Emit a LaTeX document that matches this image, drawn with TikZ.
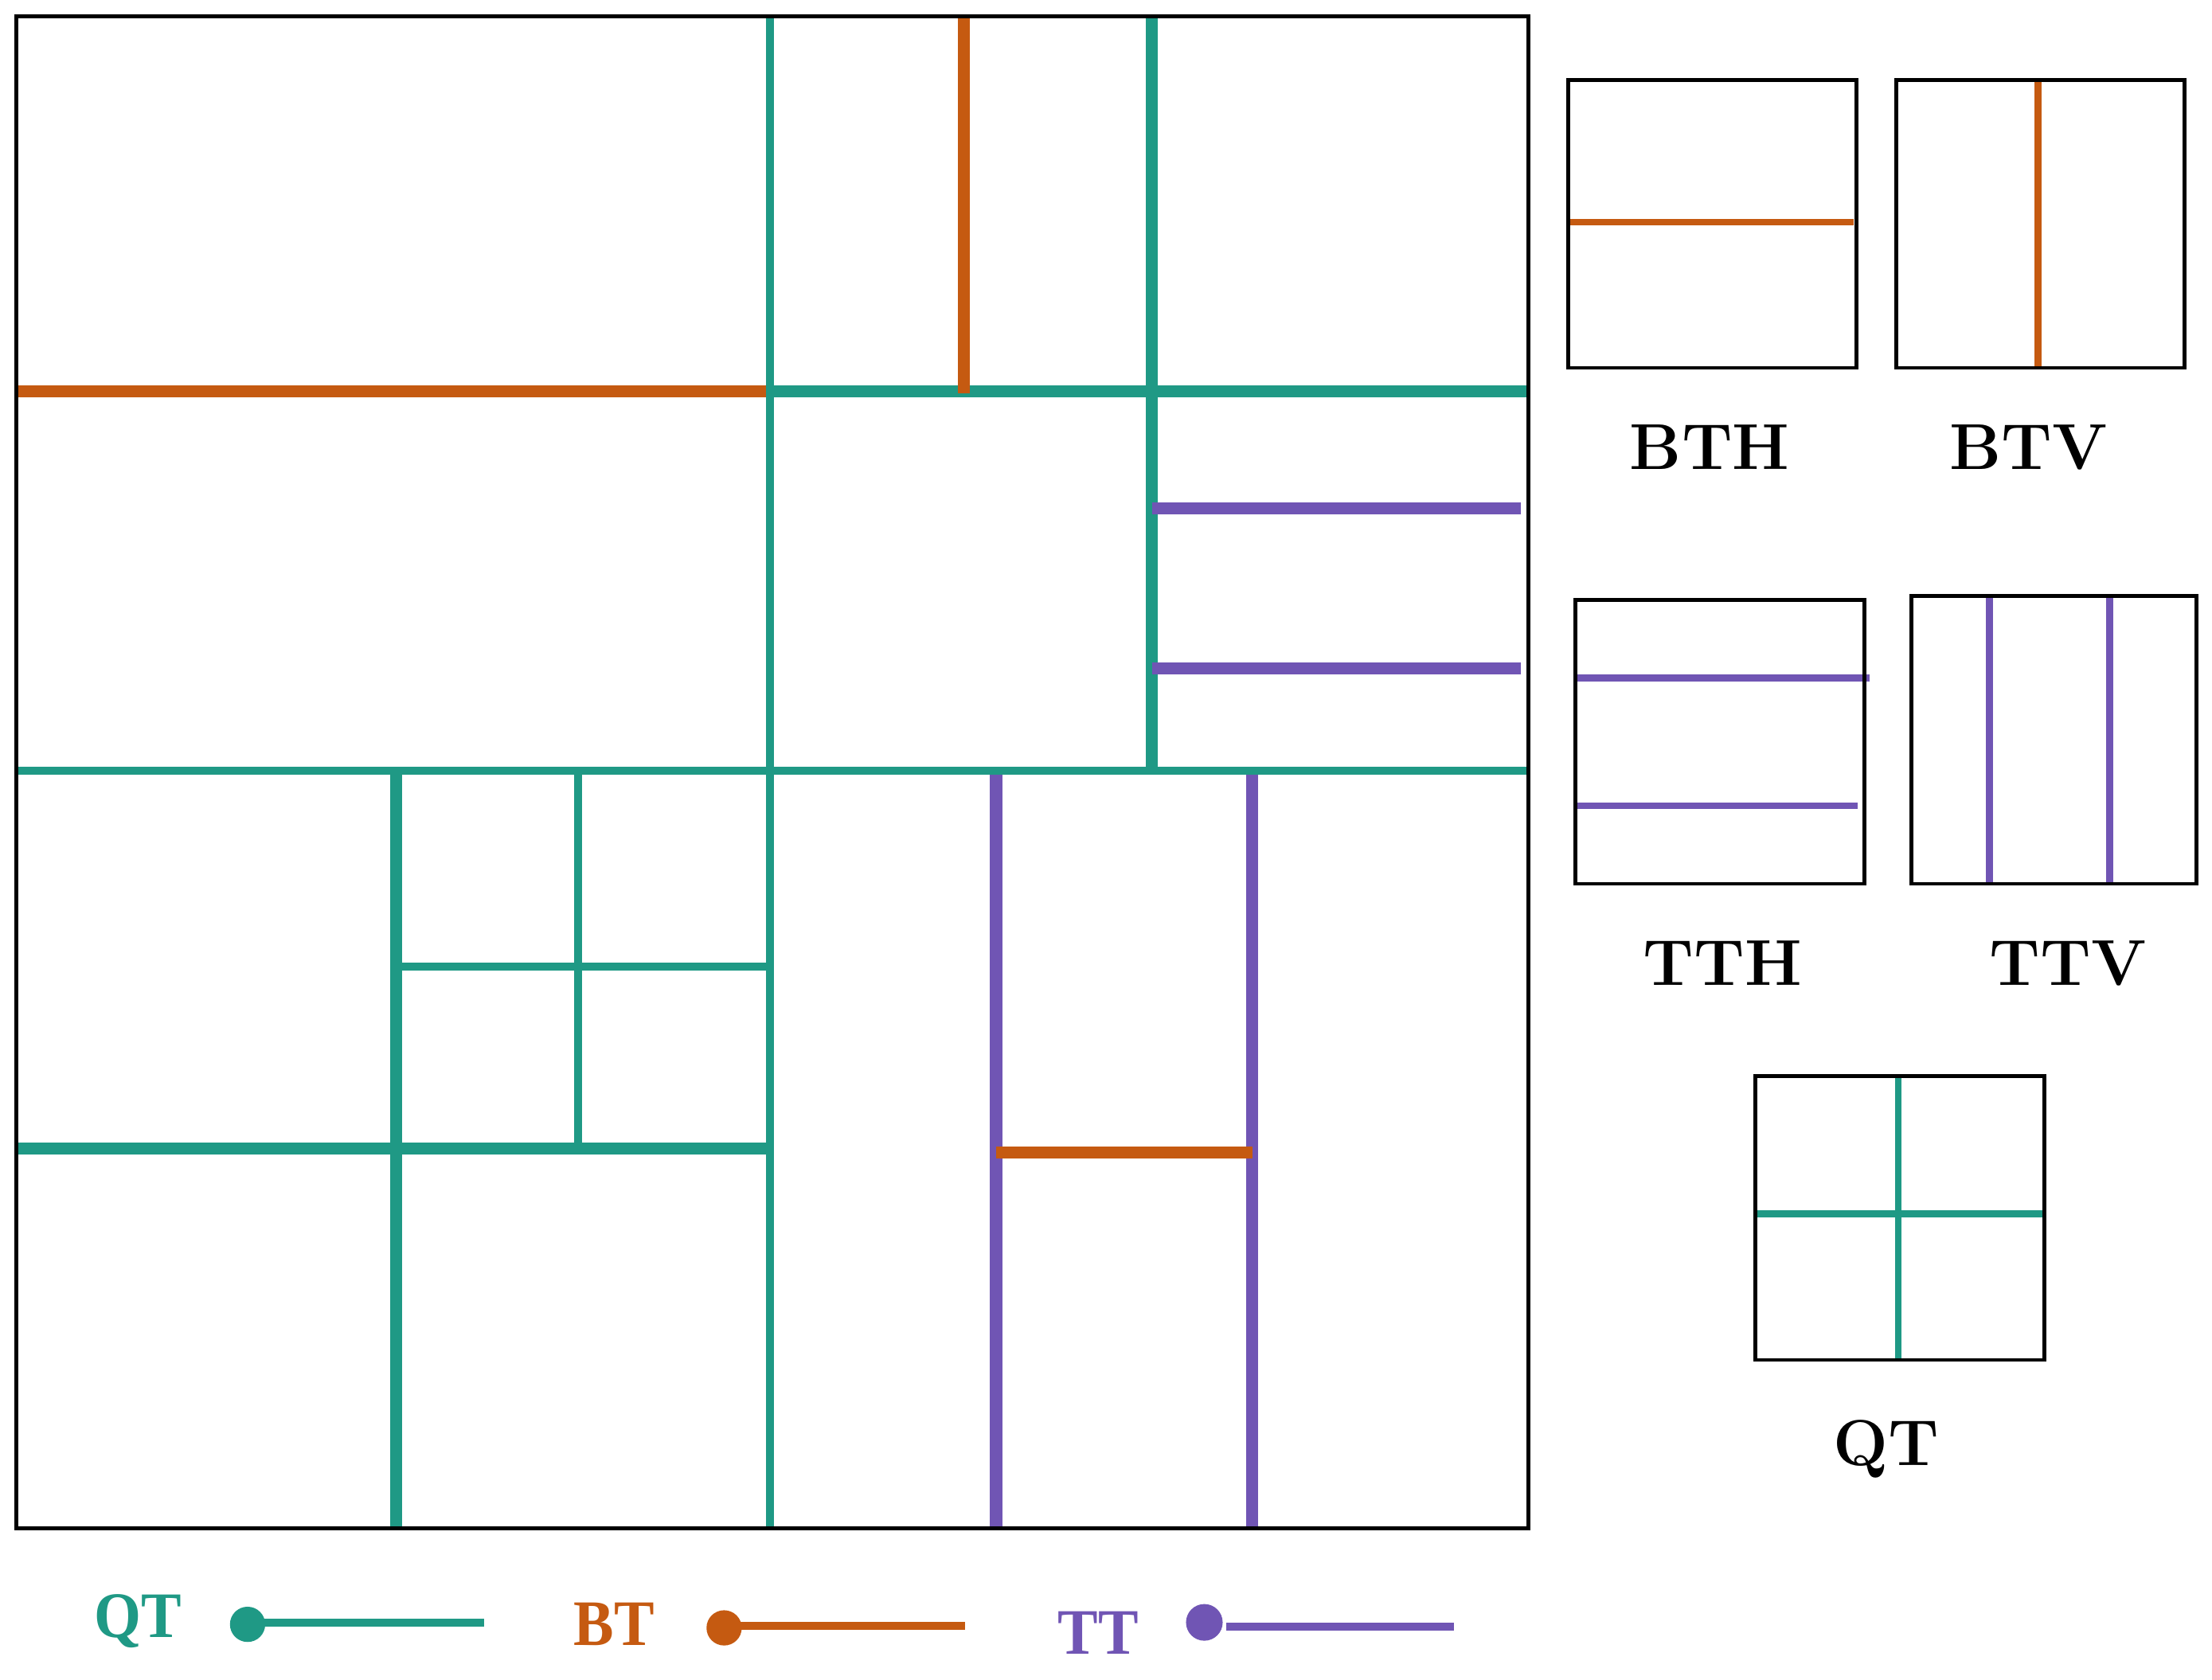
\documentclass[tikz,border=0pt]{standalone}
\usepackage{fontspec}
\newfontfamily\legfont{Liberation Serif}
\definecolor{qtc}{RGB}{31,153,133}
\definecolor{btc}{RGB}{197,90,17}
\definecolor{ttc}{RGB}{112,85,180}
\begin{document}
\begin{tikzpicture}[x=1pt,y=-1pt,
  frame/.style={draw=black,line width=2.7pt},
  qtk/.style={draw=qtc,line width=8.5pt},
  qtm/.style={draw=qtc,line width=5.8pt},
  btk/.style={draw=btc,line width=8.5pt},
  ttk/.style={draw=ttc,line width=8.5pt},
  sqline/.style={line width=5pt},
  lab/.style={font=\fontsize{46}{50}\selectfont\bfseries, anchor=base, inner sep=0pt},
  leg/.style={font=\legfont\fontsize{46}{50}\selectfont\bfseries, anchor=base, inner sep=0pt, xscale=0.93},
  legdot/.style={circle, fill, inner sep=0pt, minimum size=25pt},
  legline/.style={line width=5.6pt}]
\useasboundingbox (0,0) rectangle (1568,1190.4);

% ---------- main partition ----------
% top-left quadrant: BT horizontal
\draw[btk] (11.4,277.5) -- (545.9,277.5);
% top-right quadrant: QT split
\draw[qtk] (545.9,277.5) -- (1083.3,277.5);
\draw[qtk] (816.6,11.7) -- (816.6,546.3);
\draw[btk] (683.4,11.7) -- (683.4,279);
\draw[ttk] (816.6,360.4) -- (1078,360.4);
\draw[ttk] (816.6,473.8) -- (1078,473.8);
% bottom-left quadrant
\draw[qtk] (280.6,546.3) -- (280.6,1083.4);
\draw[qtk] (11.4,814.4) -- (545.9,814.4);
\draw[qtm] (409.8,546.3) -- (409.8,814.4);
\draw[qtm] (280.6,685.2) -- (545.9,685.2);
% bottom-right quadrant
\draw[ttk] (706.1,546.3) -- (706.1,1083.4);
\draw[ttk] (887.6,546.3) -- (887.6,1083.4);
\draw[btk] (706.1,817) -- (887.6,817);
% root QT split
\draw[qtm] (545.9,11.7) -- (545.9,1083.4);
\draw[qtm] (11.4,546.3) -- (1083.3,546.3);
\draw[frame] (11.4,11.7) rectangle (1083.3,1083.4);

% ---------- split type examples ----------
% BTH
\draw[btc,sqline] (1111.6,157.5) -- (1313.8,157.5);
\draw[frame] (1111.6,56.9) rectangle (1315.9,260.8);
\node[lab] (bth) at (1212,333) {BTH};
% BTV
\draw[btc,sqline] (1444.7,56.9) -- (1444.7,260.8);
\draw[frame] (1344,56.9) rectangle (1548.4,260.8);
\node[lab] (btv) at (1438,333) {BTV};
% TTH
\draw[ttc,sqline] (1116,480.6) -- (1325.3,480.6);
\draw[ttc,sqline] (1117.6,571.2) -- (1317,571.2);
\draw[frame] (1116.7,425.3) rectangle (1321.4,626.5);
\node[lab] (tth) at (1221,698.2) {TTH};
% TTV
\draw[ttc,sqline] (1410.3,422.3) -- (1410.3,626.5);
\draw[ttc,sqline] (1495.6,422.3) -- (1495.6,626.5);
\draw[frame] (1354.7,422.3) rectangle (1557,626.5);
\node[lab] (ttv) at (1466,698.2) {TTV};
% QT
\draw[qtc,sqline] (1345.6,763) -- (1345.6,964);
\draw[qtc,sqline] (1243,860.6) -- (1448,860.6);
\draw[frame] (1244.2,763) rectangle (1449.2,964);
\node[lab] (qtl) at (1337,1038.6) {QT};

% ---------- legend ----------
\node[leg, text=qtc] (legqt) at (97.7,1160.9) {QT};
\node[legdot, fill=qtc] (dotqt) at (175.5,1151.5) {};
\coordinate (endqt) at (343.3,1150.3);
\draw[qtc,legline] (dotqt.center) ++(0,-1.2) -- (endqt);

\node[leg, text=btc] (legbt) at (435.3,1166.4) {BT};
\node[legdot, fill=btc] (dotbt) at (513.3,1154) {};
\coordinate (endbt) at (684,1152.5);
\draw[btc,legline] (dotbt.center) ++(0,-1.5) -- (endbt);

\node[leg, text=ttc] (legtt) at (778.4,1172.5) {TT};
\node[legdot, fill=ttc, minimum size=26pt] (dottt) at (853.7,1150.1) {};
\coordinate (endtt) at (1030.6,1153);
\draw[ttc,legline] (dottt.east) ++(2.5,2.9) -- (endtt);
\end{tikzpicture}
\end{document}
